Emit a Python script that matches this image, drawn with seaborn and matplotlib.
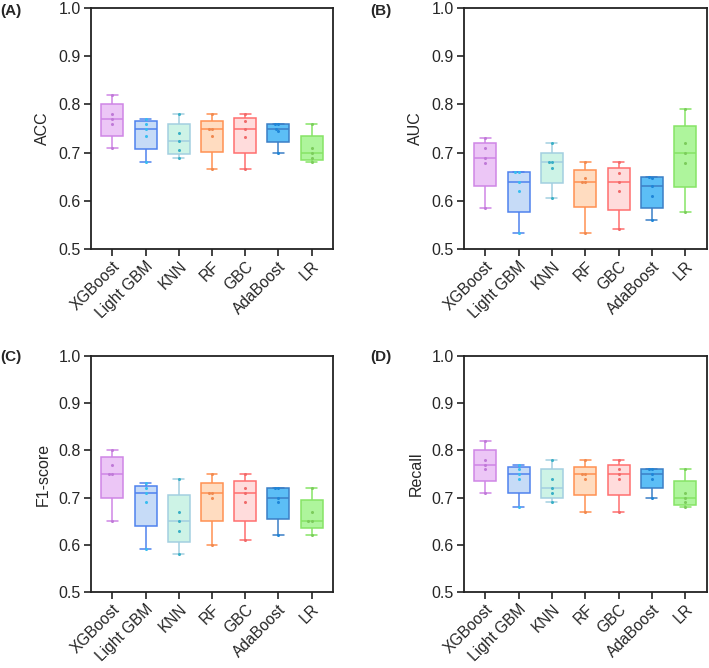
import numpy as np
import pandas as pd
import matplotlib
matplotlib.use("Agg")
import matplotlib.pyplot as plt
import seaborn as sns

models = ["XGBoost", "Light GBM", "KNN", "RF", "GBC", "AdaBoost", "LR"]

# five fold values per model
acc = {
    "XGBoost":   [0.71, 0.76, 0.77, 0.78, 0.82],
    "Light GBM": [0.68, 0.735, 0.75, 0.76, 0.77],
    "KNN":       [0.69, 0.705, 0.725, 0.74, 0.78],
    "RF":        [0.667, 0.735, 0.75, 0.75, 0.78],
    "GBC":       [0.667, 0.733, 0.75, 0.765, 0.78],
    "AdaBoost":  [0.70, 0.745, 0.75, 0.76, 0.76],
    "LR":        [0.68, 0.69, 0.70, 0.71, 0.76],
}
auc = {
    "XGBoost":   [0.585, 0.679, 0.688, 0.71, 0.73],
    "Light GBM": [0.533, 0.62, 0.64, 0.66, 0.66],
    "KNN":       [0.607, 0.669, 0.68, 0.68, 0.72],
    "RF":        [0.533, 0.64, 0.64, 0.647, 0.68],
    "GBC":       [0.542, 0.62, 0.64, 0.657, 0.68],
    "AdaBoost":  [0.56, 0.61, 0.63, 0.648, 0.65],
    "LR":        [0.577, 0.679, 0.70, 0.72, 0.79],
}
f1 = {
    "XGBoost":   [0.65, 0.75, 0.75, 0.77, 0.80],
    "Light GBM": [0.59, 0.69, 0.71, 0.72, 0.73],
    "KNN":       [0.58, 0.63, 0.65, 0.67, 0.74],
    "RF":        [0.60, 0.70, 0.71, 0.71, 0.75],
    "GBC":       [0.61, 0.69, 0.71, 0.72, 0.75],
    "AdaBoost":  [0.62, 0.69, 0.70, 0.72, 0.72],
    "LR":        [0.62, 0.65, 0.65, 0.67, 0.72],
}
recall = {
    "XGBoost":   [0.71, 0.76, 0.77, 0.78, 0.82],
    "Light GBM": [0.68, 0.74, 0.75, 0.76, 0.77],
    "KNN":       [0.69, 0.71, 0.72, 0.74, 0.78],
    "RF":        [0.67, 0.74, 0.75, 0.75, 0.78],
    "GBC":       [0.67, 0.74, 0.75, 0.76, 0.78],
    "AdaBoost":  [0.70, 0.74, 0.75, 0.76, 0.76],
    "LR":        [0.68, 0.69, 0.70, 0.71, 0.76],
}

panels = [("(A)", "ACC", acc), ("(B)", "AUC", auc), ("(C)", "F1-score", f1), ("(D)", "Recall", recall)]

fill_colors = ["#ecc6f6", "#c6dbf7", "#cdf3e6", "#ffdcc0", "#ffdcdc", "#5cbef6", "#aef59c"]
edge_colors = ["#cf86e6", "#4f82ee", "#a3cfe0", "#ff9152", "#ff6f6f", "#3b7fc6", "#86e466"]
dot_colors = ["#c07ad8", "#38bdf0", "#3ab0c6", "#f08a50", "#f06a6a", "#1f86d8", "#7ccc5c"]

sns.set_theme(style="ticks")
plt.rcParams["font.family"] = ["Liberation Sans", "DejaVu Sans"]

fig = plt.figure(figsize=(7.09, 6.68), dpi=100)
positions = [
    [0.128, 0.627, 0.342, 0.361],
    [0.654, 0.627, 0.343, 0.361],
    [0.128, 0.114, 0.342, 0.353],
    [0.654, 0.114, 0.343, 0.353],
]
label_pos = [(0.0, 0.984), (0.522, 0.984), (0.0, 0.466), (0.522, 0.466)]

for (tag, ylabel, data), pos, lp in zip(panels, positions, label_pos):
    ax = fig.add_axes(pos)
    for i, m in enumerate(models):
        raw = np.array(data[m])
        # Prism-style quartiles (p(n+1) method)
        q1, med, q3 = np.percentile(raw, [25, 50, 75], method="weibull")
        boxvals = [raw.min(), q1, med, q3, raw.max()]
        sns.boxplot(x=[m] * 5, y=boxvals, order=models, ax=ax, color=fill_colors[i],
                    linecolor=edge_colors[i], saturation=1, width=0.66,
                    whis=(0, 100), linewidth=1.1, showfliers=False)
        sns.swarmplot(x=[m] * len(raw), y=raw, order=models, ax=ax,
                      color=dot_colors[i], size=2.2, linewidth=0)
    ax.set_xlim(-0.65, 6.65)
    ax.set_ylim(0.5, 1.0)
    ax.set_yticks([0.5, 0.6, 0.7, 0.8, 0.9, 1.0])
    ax.set_yticklabels(["0.5", "0.6", "0.7", "0.8", "0.9", "1.0"])
    ax.set_xlabel("")
    ax.set_ylabel(ylabel, fontsize=11.5, labelpad=6)
    ax.tick_params(axis="y", labelsize=11.5, length=5, width=1.2, color="#222222", pad=2)
    ax.tick_params(axis="x", labelsize=11.2, length=5, width=1.2, color="#222222", pad=2)
    for lbl in ax.get_xticklabels():
        lbl.set_rotation(45)
        lbl.set_ha("right")
        lbl.set_rotation_mode("anchor")
    for sp in ax.spines.values():
        sp.set_visible(True)
        sp.set_linewidth(1.3)
        sp.set_color("#222222")
    fig.text(lp[0], lp[1], tag, fontsize=11, fontweight="bold", ha="left", va="center")

fig.savefig("out.png", dpi=100)
